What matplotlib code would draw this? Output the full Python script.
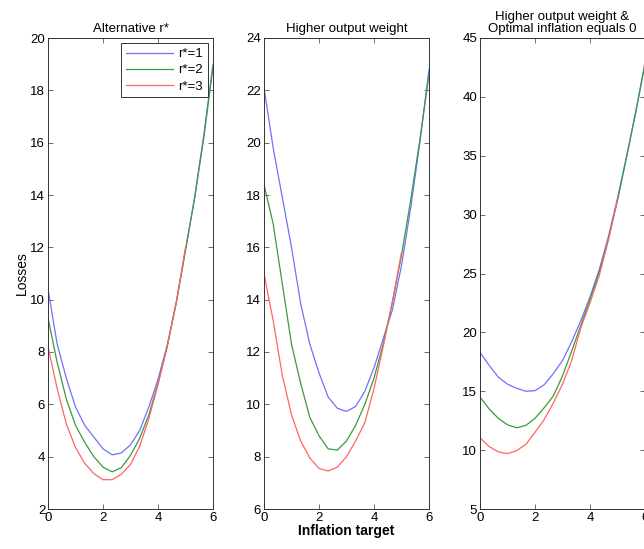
import numpy as np
import matplotlib
matplotlib.use("Agg")
from matplotlib import pyplot as plt

plt.rcParams["font.family"] = ["Liberation Sans", "DejaVu Sans"]
plt.rcParams["font.size"] = 9.5

# inflation target grid (0:1/3:6), red series stops at 5
x_full = np.linspace(0, 6, 19)
x_short = x_full[:16]

legend_labels = ["r*=1", "r*=2", "r*=3"]
titles = ["Alternative r*", "Higher output weight",
          "Higher output weight &\nOptimal inflation equals 0"]

# panel 1: alternative r*
p1_r1 = [10.4, 8.3, 7.0, 5.9, 5.2, 4.75, 4.3, 4.07, 4.14, 4.45, 5.0, 5.9, 6.95, 8.25, 9.9, 11.9, 13.9, 16.3, 19.0]
p1_r2 = [9.3, 7.6, 6.2, 5.2, 4.55, 4.0, 3.6, 3.42, 3.58, 4.05, 4.7, 5.6, 6.8, 8.2, 9.9, 11.9, 13.9, 16.2, 18.9]
p1_r3 = [8.2, 6.6, 5.25, 4.35, 3.75, 3.35, 3.12, 3.12, 3.33, 3.7, 4.4, 5.45, 6.75, 8.2, 9.9, 12.0]

# panel 2: higher output weight
p2_r1 = [22.1, 19.8, 17.9, 16.0, 13.85, 12.3, 11.2, 10.28, 9.85, 9.73, 9.92, 10.5, 11.4, 12.5, 13.6, 15.3, 17.5, 20.0, 22.8]
p2_r2 = [18.4, 16.9, 14.6, 12.3, 10.8, 9.5, 8.8, 8.3, 8.25, 8.6, 9.2, 10.0, 11.0, 12.3, 13.9, 15.7, 17.8, 20.1, 22.6]
p2_r3 = [15.0, 13.2, 11.1, 9.6, 8.6, 7.95, 7.55, 7.45, 7.6, 8.0, 8.6, 9.3, 10.6, 12.2, 13.9, 15.8]

# panel 3: higher output weight, optimal inflation 0
p3_r1 = [18.3, 17.2, 16.2, 15.6, 15.25, 15.0, 15.05, 15.55, 16.5, 17.6, 19.2, 21.0, 23.0, 25.3, 28.1, 31.4, 35.0, 38.8, 42.9]
p3_r2 = [14.5, 13.5, 12.7, 12.15, 11.9, 12.1, 12.7, 13.6, 14.6, 16.3, 18.4, 20.6, 22.8, 25.1, 27.9, 31.2, 34.9, 38.7, 42.8]
p3_r3 = [11.05, 10.3, 9.85, 9.7, 9.95, 10.5, 11.5, 12.6, 14.0, 15.6, 17.6, 20.4, 22.5, 24.8, 27.8, 31.3]

panels = [(p1_r1, p1_r2, p1_r3), (p2_r1, p2_r2, p2_r3), (p3_r1, p3_r2, p3_r3)]
ylims = [(2, 20), (6, 24), (5, 45)]
ysteps = [2, 2, 5]
lefts = [48 / 644, 264 / 644, 480 / 644]
colors = ["#7070ff", "#3c9a3c", "#ff6464"]

fig = plt.figure(figsize=(6.44, 5.49), dpi=100)
axes = []
for i, (s1, s2, s3) in enumerate(panels):
    ax = fig.add_axes([lefts[i], 40 / 549, 165 / 644, 471 / 549])
    ax.plot(x_full, s1, color=colors[0], lw=0.9, label=legend_labels[0])
    ax.plot(x_full, s2, color=colors[1], lw=0.9, label=legend_labels[1])
    ax.plot(x_short, s3, color=colors[2], lw=0.9, label=legend_labels[2])
    ax.set_xlim(0, 6)
    ax.set_ylim(*ylims[i])
    ax.set_xticks([0, 2, 4, 6])
    ax.set_yticks(np.arange(ylims[i][0], ylims[i][1] + 0.1, ysteps[i]))
    ax.tick_params(direction="in", top=True, right=True, length=3.5,
                   width=0.6, color="#555555", labelsize=9.5, pad=2)
    for sp in ax.spines.values():
        sp.set_linewidth(0.7)
        sp.set_color("#333333")
    ax.set_title(titles[i], fontsize=9.5, pad=4, linespacing=1.05)
    axes.append(ax)

axes[0].set_ylabel("Losses", fontsize=10, labelpad=1)
axes[1].set_xlabel("Inflation target", fontsize=10, labelpad=0, fontweight="semibold")
leg = axes[0].legend(loc="upper right", fontsize=9.5, handlelength=3.6,
                     borderaxespad=0.4, fancybox=False, framealpha=1,
                     labelspacing=0.3, handletextpad=0.4, borderpad=0.35)
leg.get_frame().set_edgecolor("#333333")
leg.get_frame().set_linewidth(0.7)

fig.savefig("out.png", dpi=100)
